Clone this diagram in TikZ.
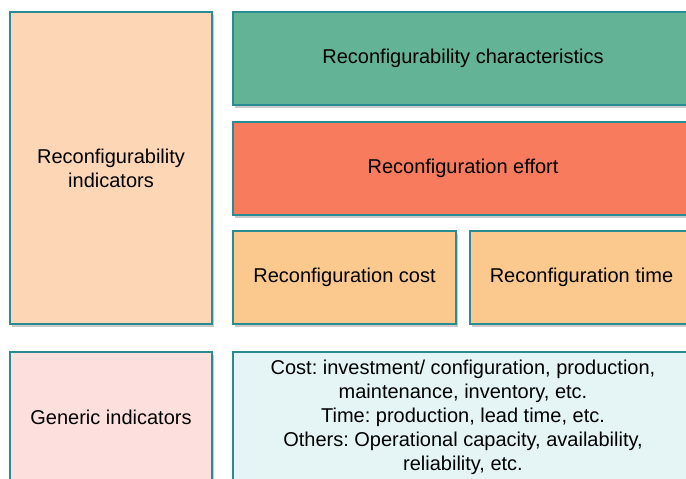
\documentclass[tikz,border=0pt]{standalone}
\usepackage{fontspec}
\setmainfont{Liberation Sans}
\usetikzlibrary{shadows}
\frenchspacing
\definecolor{edge}{RGB}{40,140,146}
\definecolor{peach}{RGB}{253,214,181}
\definecolor{green}{RGB}{99,179,151}
\definecolor{coral}{RGB}{247,123,92}
\definecolor{amber}{RGB}{251,201,141}
\definecolor{pink}{RGB}{253,224,221}
\definecolor{ice}{RGB}{229,244,244}
\tikzset{
  box/.style={draw=edge, line width=1.3pt, rectangle, inner sep=0pt, align=center,
    font=\fontsize{20}{24}\selectfont,
    drop shadow={opacity=0.35, shadow xshift=2pt, shadow yshift=-2.5pt, fill=black!60}},
}
\begin{document}
\begin{tikzpicture}[x=1pt,y=-1pt]
\useasboundingbox (0,0) rectangle (686,479);
\clip (0,0) rectangle (686,479);
\node[box, fill=peach, minimum width=202pt, minimum height=312pt] (ri) at (111,168) {Reconfigurability\\indicators};
\node[box, fill=green, minimum width=460pt, minimum height=93pt] (rc) at (463,58.5) {Reconfigurability characteristics};
\node[box, fill=coral, minimum width=460pt, minimum height=93pt] (re) at (463,168.5) {Reconfiguration effort};
\node[box, fill=amber, minimum width=223pt, minimum height=93pt] (cost) at (344.5,277.5) {Reconfiguration cost};
\node[box, fill=amber, minimum width=223pt, minimum height=93pt] (time) at (581.5,277.5) {Reconfiguration time};
\node[box, fill=pink, minimum width=202pt, minimum height=130pt] (gi) at (111,417) {Generic indicators};
\node[box, fill=ice, minimum width=460pt, minimum height=130pt] (gt) at (463,417) {Cost: investment/ configuration, production,\\maintenance, inventory, etc.\\Time: production, lead time, etc.\\Others: Operational capacity, availability,\\reliability, etc.};
\end{tikzpicture}
\end{document}
